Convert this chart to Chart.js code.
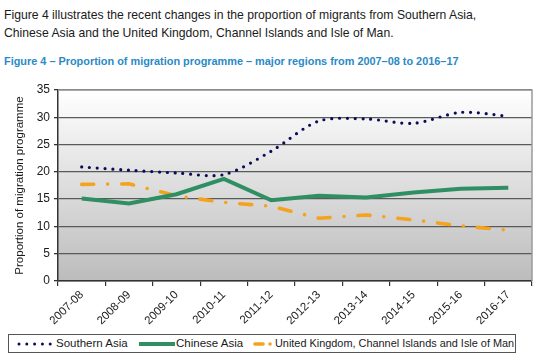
<!DOCTYPE html>
<html>
<head>
<meta charset="utf-8">
<script src="https://cdn.jsdelivr.net/npm/chart.js@4"></script>
<style>
  html, body { margin:0; padding:0; background:#fff; }
  body { width:554px; height:356px; position:relative; overflow:hidden; font-family:"Liberation Sans", Arial, sans-serif; }
  #intro { position:absolute; left:4px; top:6px; font-size:12.2px; line-height:18px; color:#1a1a1a; white-space:nowrap; }
  #fig { position:absolute; left:4px; top:54px; font-size:10.9px; line-height:14px; font-weight:bold; color:#2b8ac6; white-space:nowrap; }
  #wrap { position:absolute; left:0; top:75px; width:554px; height:281px; }
  #legend { position:absolute; left:8px; top:334px; width:506px; height:17px; border:1px solid #555; background:#fff;
            font-size:11.5px; color:#1a1a1a; white-space:nowrap; }
  #legend svg, #legend span { position:absolute; top:0; }
  #legend span { line-height:17px; }
</style>
</head>
<body>
<div id="intro">Figure 4 illustrates the recent changes in the proportion of migrants from Southern Asia,<br>Chinese Asia and the United Kingdom, Channel Islands and Isle of Man.</div>
<div id="fig">Figure 4 – Proportion of migration programme – major regions from 2007–08 to 2016–17</div>
<div id="wrap"><canvas id="c" width="554" height="281"></canvas></div>
<div id="legend">
  <svg style="left:8px" width="40" height="17"><line x1="2" y1="9" x2="38" y2="9" stroke="#0b0b5c" stroke-width="3" stroke-linecap="round" stroke-dasharray="0 7.8"/></svg>
  <span style="left:47px">Southern Asia</span>
  <svg style="left:129px" width="38" height="17"><line x1="1" y1="9" x2="37" y2="9" stroke="#2f8f63" stroke-width="4"/></svg>
  <span style="left:167px">Chinese Asia</span>
  <svg style="left:243px" width="24" height="17"><line x1="3" y1="9" x2="11" y2="9" stroke="#f5a21e" stroke-width="3.6" stroke-linecap="round"/><circle cx="18" cy="9" r="1.8" fill="#f5a21e"/></svg>
  <span style="left:266px;font-size:10.9px">United Kingdom, Channel Islands and Isle of Man</span>
</div>
<script>
const categories = ["2007-08","2008-09","2009-10","2010-11","2011-12","2012-13","2013-14","2014-15","2015-16","2016-17"];
const southernAsia = [20.9, 20.3, 19.8, 19.5, 23.8, 29.3, 29.7, 28.9, 30.9, 30.2];
const chineseAsia = [15.1, 14.2, 15.9, 18.7, 14.8, 15.6, 15.3, 16.2, 16.9, 17.1];
const ukChannelIoM = [17.7, 17.8, 15.6, 14.4, 13.7, 11.5, 12.1, 11.2, 10.1, 9.3];
const yTicks = [0, 5, 10, 15, 20, 25, 30, 35];
const seriesNames = ["Southern Asia", "Chinese Asia", "United Kingdom, Channel Islands and Isle of Man"];
const FONT = '"Liberation Sans", Arial, sans-serif';

const bgPlugin = {
  id: 'bg',
  beforeDraw(chart) {
    const {ctx, chartArea:a} = chart;
    const g = ctx.createLinearGradient(0, a.top, 0, a.bottom);
    g.addColorStop(0, '#ffffff');
    g.addColorStop(1, '#bcbcbc');
    ctx.save();
    ctx.fillStyle = g;
    ctx.fillRect(a.left, a.top, a.right - a.left, a.bottom - a.top);
    ctx.restore();
  },
  afterDatasetsDraw(chart) {
    const {ctx, chartArea:a} = chart;
    ctx.save();
    ctx.strokeStyle = '#9a9a9a';
    ctx.lineWidth = 1.5;
    ctx.beginPath();
    ctx.moveTo(a.left, a.top); ctx.lineTo(a.right, a.top); ctx.lineTo(a.right, a.bottom);
    ctx.stroke();
    ctx.restore();
  }
};

new Chart(document.getElementById('c'), {
  type: 'line',
  data: {
    labels: categories,
    datasets: [
      { label: seriesNames[0], data: southernAsia, borderColor: '#0b0b5c', borderWidth: 3.2, borderDash: [0, 7.8],
        borderCapStyle: 'round', pointRadius: 0, tension: 0.3, fill: false },
      { label: seriesNames[1], data: chineseAsia, borderColor: '#2f8f63', borderWidth: 4, pointRadius: 0, tension: 0, fill: false },
      { label: seriesNames[2], data: ukChannelIoM, borderColor: '#f5a21e', borderWidth: 3.6, borderDash: [12, 14, 0, 14],
        borderCapStyle: 'round', pointRadius: 0, tension: 0, fill: false }
    ]
  },
  options: {
    responsive: false,
    animation: false,
    layout: { padding: { top: 15, right: 22, left: 0, bottom: 0 } },
    plugins: { legend: { display: false }, tooltip: { enabled: false } },
    scales: {
      x: {
        offset: true,
        afterFit(s) { s.height = 75; },
        grid: { offset: true, drawOnChartArea: false, drawTicks: true, tickLength: 5, tickColor: '#333', lineWidth: 1.2 },
        border: { display: true, color: '#333', width: 1.5 },
        ticks: { minRotation: 45, maxRotation: 45, color: '#1a1a1a', padding: 2, font: { family: FONT, size: 11.5 } }
      },
      y: {
        min: 0, max: 35,
        afterFit(s) { s.width = 58; },
        afterBuildTicks(s) { s.ticks = yTicks.map(v => ({ value: v })); },
        grid: { color: '#5a5a5a', lineWidth: 1.3, tickLength: 4, tickColor: '#333' },
        border: { display: true, color: '#333', width: 1.5 },
        ticks: { color: '#1a1a1a', padding: 4, font: { family: FONT, size: 12 } },
        title: { display: true, text: 'Proportion of migration programme', color: '#1a1a1a', padding: { top: 13, bottom: 0 },
                 font: { family: FONT, size: 11.5 } }
      }
    }
  },
  plugins: [bgPlugin]
});
</script>
</body>
</html>
